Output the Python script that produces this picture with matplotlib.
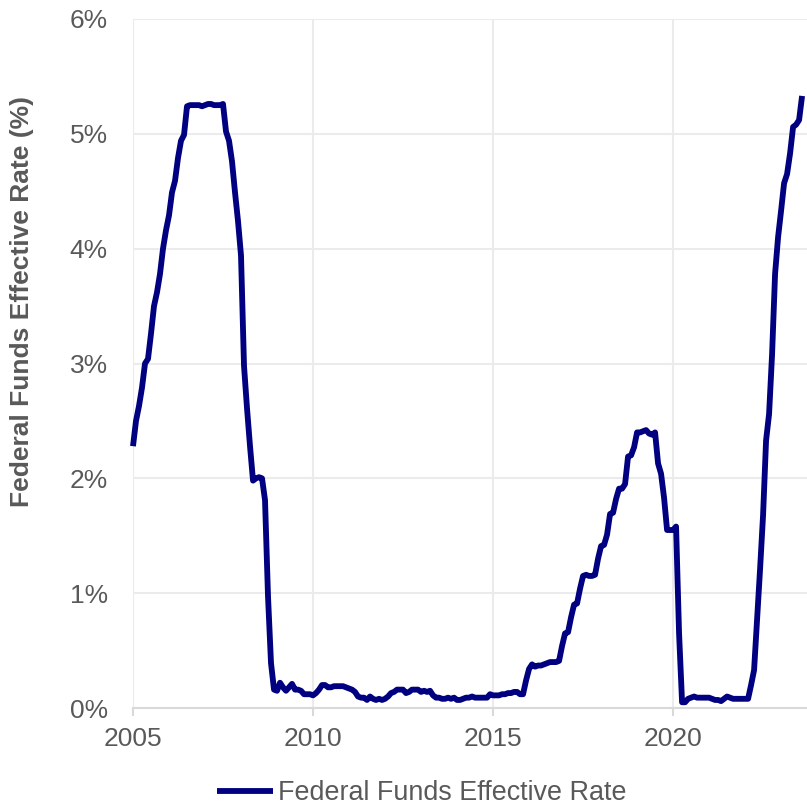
import matplotlib.pyplot as plt
import numpy as np

plt.rcParams["font.family"] = ["Liberation Sans", "DejaVu Sans"]

# monthly effective federal funds rate, Jan 2005 .. Aug 2023 (percent)
rate_2005 = [2.28, 2.50, 2.63, 2.79, 3.00, 3.04, 3.26, 3.50, 3.62, 3.78, 4.00, 4.16]
rate_2006 = [4.29, 4.49, 4.59, 4.79, 4.94, 4.99, 5.24, 5.25, 5.25, 5.25, 5.25, 5.24]
rate_2007 = [5.25, 5.26, 5.26, 5.25, 5.25, 5.25, 5.26, 5.02, 4.94, 4.76, 4.49, 4.24]
rate_2008 = [3.94, 2.98, 2.61, 2.28, 1.98, 2.00, 2.01, 2.00, 1.81, 0.97, 0.39, 0.16]
rate_2009 = [0.15, 0.22, 0.18, 0.15, 0.18, 0.21, 0.16, 0.16, 0.15, 0.12, 0.12, 0.12]
rate_2010 = [0.11, 0.13, 0.16, 0.20, 0.20, 0.18, 0.18, 0.19, 0.19, 0.19, 0.19, 0.18]
rate_2011 = [0.17, 0.16, 0.14, 0.10, 0.09, 0.09, 0.07, 0.10, 0.08, 0.07, 0.08, 0.07]
rate_2012 = [0.08, 0.10, 0.13, 0.14, 0.16, 0.16, 0.16, 0.13, 0.14, 0.16, 0.16, 0.16]
rate_2013 = [0.14, 0.15, 0.14, 0.15, 0.11, 0.09, 0.09, 0.08, 0.08, 0.09, 0.08, 0.09]
rate_2014 = [0.07, 0.07, 0.08, 0.09, 0.09, 0.10, 0.09, 0.09, 0.09, 0.09, 0.09, 0.12]
rate_2015 = [0.11, 0.11, 0.11, 0.12, 0.12, 0.13, 0.13, 0.14, 0.14, 0.12, 0.12, 0.24]
rate_2016 = [0.34, 0.38, 0.36, 0.37, 0.37, 0.38, 0.39, 0.40, 0.40, 0.40, 0.41, 0.54]
rate_2017 = [0.65, 0.66, 0.79, 0.90, 0.91, 1.04, 1.15, 1.16, 1.15, 1.15, 1.16, 1.30]
rate_2018 = [1.41, 1.42, 1.51, 1.69, 1.70, 1.82, 1.91, 1.91, 1.95, 2.19, 2.20, 2.27]
rate_2019 = [2.40, 2.40, 2.41, 2.42, 2.39, 2.38, 2.40, 2.13, 2.04, 1.83, 1.55, 1.55]
rate_2020 = [1.55, 1.58, 0.65, 0.05, 0.05, 0.08, 0.09, 0.10, 0.09, 0.09, 0.09, 0.09]
rate_2021 = [0.09, 0.08, 0.07, 0.07, 0.06, 0.08, 0.10, 0.09, 0.08, 0.08, 0.08, 0.08]
rate_2022 = [0.08, 0.08, 0.20, 0.33, 0.77, 1.21, 1.68, 2.33, 2.56, 3.08, 3.78, 4.10]
rate_2023 = [4.33, 4.57, 4.65, 4.83, 5.06, 5.08, 5.12, 5.33]

rate = np.concatenate([
    rate_2005, rate_2006, rate_2007, rate_2008, rate_2009, rate_2010, rate_2011,
    rate_2012, rate_2013, rate_2014, rate_2015, rate_2016, rate_2017, rate_2018,
    rate_2019, rate_2020, rate_2021, rate_2022, rate_2023,
])
years = 2005 + np.arange(len(rate)) / 12

x_ticks = [2005, 2010, 2015, 2020]
y_ticks = [0, 1, 2, 3, 4, 5, 6]
y_labels = [f"{v}%" for v in y_ticks]

navy = "#000080"
grey_text = "#595959"
grid_c = "#ebebeb"

fig = plt.figure(figsize=(8.07, 8.07), dpi=100)
ax = fig.add_axes([133 / 807, 1 - 708 / 807, 1 - 133 / 807, (708 - 19) / 807])

ax.plot(years, rate, color=navy, lw=4.2, solid_joinstyle="round",
        solid_capstyle="butt", label="Federal Funds Effective Rate", clip_on=False)

ax.set_xlim(2005, 2023.72)
ax.set_ylim(0, 6)
ax.set_xticks(x_ticks)
ax.set_xticklabels([str(t) for t in x_ticks])
ax.set_yticks(y_ticks)
ax.set_yticklabels(y_labels)

ax.grid(True, color=grid_c, lw=1.5)
ax.set_axisbelow(True)
for side in ["top", "right", "left"]:
    ax.spines[side].set_visible(False)
ax.spines["bottom"].set_color("#d9d9d9")
ax.spines["bottom"].set_linewidth(1.5)

ax.tick_params(axis="x", colors="#d9d9d9", length=6, width=1.5, pad=8,
               labelcolor=grey_text, labelsize=19)
ax.tick_params(axis="y", length=0, pad=18, labelcolor=grey_text, labelsize=19)

fig.text(22 / 807, 1 - 302 / 807, "Federal Funds Effective Rate (%)",
         rotation=90, ha="center", va="center", fontsize=19, fontweight="bold",
         color=grey_text)

fig.legend(loc="center", bbox_to_anchor=(422 / 807, 1 - 793 / 807),
           frameon=False, fontsize=19.4, labelcolor=grey_text,
           handlelength=2.05, handletextpad=0.2)

fig.savefig("out.png", dpi=100)
